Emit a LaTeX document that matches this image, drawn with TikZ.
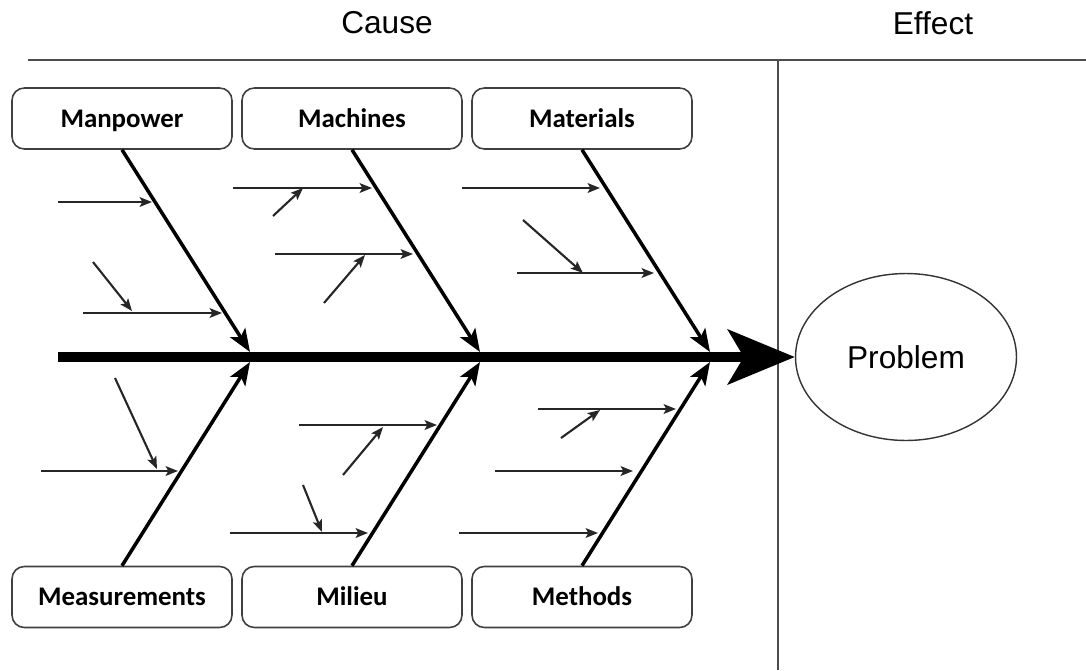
\documentclass[tikz,border=0pt]{standalone}
\usepackage{fontspec}
\setmainfont{Liberation Sans}
\newfontfamily\catfont{Carlito}
\usetikzlibrary{arrows.meta,shapes.geometric}
\tikzset{
  cat/.style={draw=black!75,line width=0.9pt,rounded corners=7pt,fill=white,
    minimum width=4.4cm,minimum height=1.22cm,inner sep=0pt,text height=9.85pt,text depth=0pt,
    font=\catfont\bfseries\fontsize{15.3}{18}\selectfont},
  bone/.style={line width=2pt,-{Stealth[length=13pt,width=10pt,inset=3pt]}},
  sub/.style={line width=1.2pt,black!85,-{Stealth[length=7pt,width=5.5pt,inset=1.5pt]}},
  frame/.style={line width=1.2pt,black!70}
}
\begin{document}
\begin{tikzpicture}[x=0.02cm,y=-0.02cm]
  \useasboundingbox (0,0) rectangle (1086,670);
  \draw[frame] (28,60) -- (1086,60);
  \draw[frame] (778,60) -- (778,670);
  \node[font=\fontsize{18}{22}\selectfont] (cause) at (387,23) {Cause};
  \node[font=\fontsize{18}{22}\selectfont] (effect) at (933,23) {Effect};
  \node[ellipse,draw=black!80,line width=0.8pt,minimum width=4.42cm,minimum height=3.34cm,
    inner sep=0pt,font=\fontsize{18}{22}\selectfont] (prob) at (906,357) {Problem};
  \coordinate (tail) at (58,357);
  \draw[line width=5.7pt,-{Stealth[length=38pt,width=31pt,inset=9pt]}] (tail) -- (prob.west);
  \node[cat] (manpower) at (122,118.5) {Manpower};
  \node[cat] (machines) at (352,118.5) {Machines};
  \node[cat] (materials) at (582,118.5) {Materials};
  \node[cat] (measure) at (122,597) {Measurements};
  \node[cat] (milieu) at (352,597) {Milieu};
  \node[cat] (methods) at (582,597) {Methods};
  \coordinate (j1) at (250,352);
  \coordinate (j2) at (480,352);
  \coordinate (j3) at (710,352);
  \coordinate (j4) at (250,362);
  \coordinate (j5) at (480,362);
  \coordinate (j6) at (710,362);
  \draw[bone] (manpower.south) -- (j1);
  \draw[bone] (machines.south) -- (j2);
  \draw[bone] (materials.south) -- (j3);
  \draw[bone] (measure.north) -- (j4);
  \draw[bone] (milieu.north) -- (j5);
  \draw[bone] (methods.north) -- (j6);
  \foreach \xa/\ya/\xb/\yb [count=\i] in {58/202/152/202, 83/313/222/313, 93/262/132/311,
      233/188/372/188, 273/216/303/188, 275/254/413/254, 324/303/365/255,
      462/188/600/188, 523/220/583/273, 517/273/654/273,
      41/471/178/471, 115/378/157/469,
      299/425/437/425, 343/475/383/427, 230/533/368/533, 303/485/322/532,
      538/409/676/409, 561/438/600/410, 495/471/633/471, 459/533/598/533}{
    \coordinate (s\i) at (\xa,\ya);
    \coordinate (t\i) at (\xb,\yb);
    \draw[sub] (s\i) -- (t\i);
  }
\end{tikzpicture}
\end{document}
